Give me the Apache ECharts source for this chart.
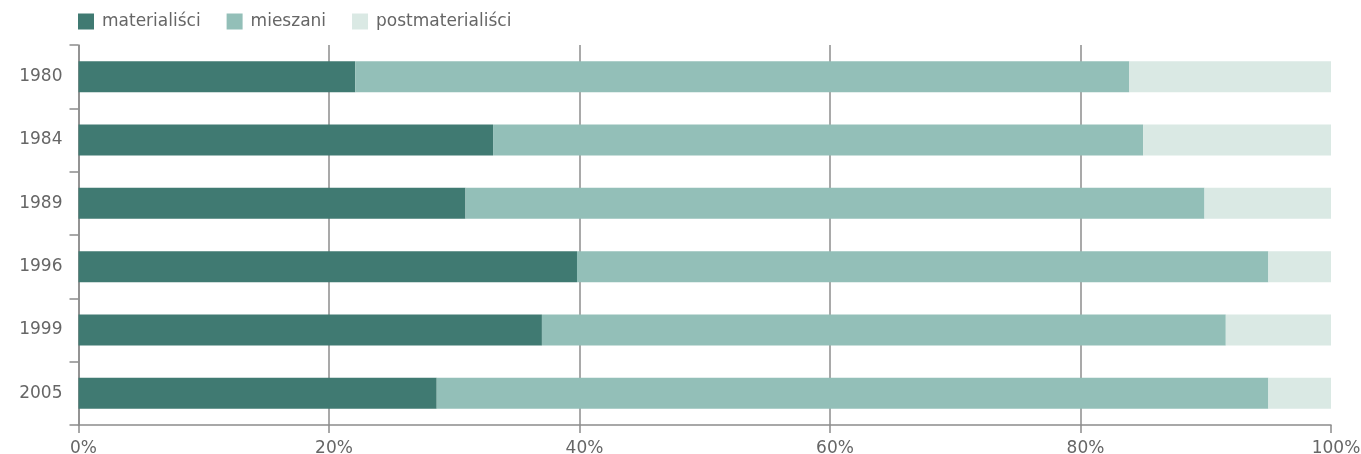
<!DOCTYPE html>
<html>
<head>
<meta charset="utf-8">
<script src="https://cdn.jsdelivr.net/npm/echarts@6/dist/echarts.min.js"></script>
<style>
html,body{margin:0;padding:0;background:#fff;}
#chart{width:1361px;height:454px;}
</style>
</head>
<body>
<div id="chart"></div>
<script>
const years = ['1980', '1984', '1989', '1996', '1999', '2005'];
const seriesNames = ['materialiści', 'mieszani', 'postmaterialiści'];
const materialisci = [22.1, 33.1, 30.9, 39.8, 37.0, 28.6];
const mieszani = [61.8, 51.9, 59.0, 55.2, 54.6, 66.4];
const postmaterialisci = [16.1, 15.0, 10.1, 5.0, 8.4, 5.0];
const xTicks = [0, 20, 40, 60, 80, 100];

const colors = ['#407a72', '#93bfb8', '#dae9e4'];
const textColor = '#666666';
const lineColor = '#8c8c8c';
const font = 'DejaVu Sans';

const chart = echarts.init(document.getElementById('chart'), null, {renderer: 'canvas'});
const values = [materialisci, mieszani, postmaterialisci];

chart.setOption({
  animation: false,
  color: colors,
  legend: {
    left: 73,
    top: 8,
    icon: 'rect',
    itemWidth: 16,
    itemHeight: 16,
    itemGap: 26,
    textStyle: {color: textColor, fontFamily: font, fontSize: 17, padding: [0, 0, 0, 3]},
    data: seriesNames
  },
  grid: {left: 78.5, right: 30, top: 45, bottom: 29, containLabel: false, outerBoundsMode: 'none'},
  xAxis: {
    type: 'value',
    min: xTicks[0],
    max: xTicks[xTicks.length - 1],
    interval: 20,
    axisLine: {show: true, lineStyle: {color: lineColor, width: 1.5}},
    axisTick: {show: true, length: 8, lineStyle: {color: lineColor, width: 1.5}},
    splitLine: {show: true, showMaxLine: false, lineStyle: {color: lineColor, width: 1.5}},
    axisLabel: {
      color: textColor, fontFamily: font, fontSize: 17, margin: 15,
      padding: [0, 0, 0, 10],
      formatter: v => v + '%'
    }
  },
  yAxis: {
    type: 'category',
    inverse: true,
    data: years,
    axisLine: {show: true, lineStyle: {color: lineColor, width: 1.5}},
    axisTick: {show: true, length: 9, lineStyle: {color: lineColor, width: 1.5}},
    axisLabel: {color: textColor, fontFamily: font, fontSize: 17, margin: 16}
  },
  series: seriesNames.map((name, i) => ({
    name: name,
    type: 'bar',
    stack: 'total',
    barWidth: 31,
    z: 3,
    itemStyle: {color: colors[i]},
    data: values[i]
  }))
});
</script>
</body>
</html>
